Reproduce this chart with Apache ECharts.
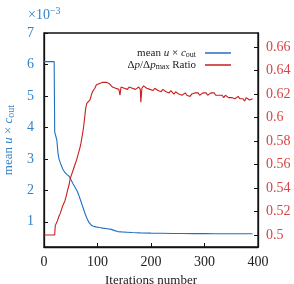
<!DOCTYPE html>
<html>
<head>
<meta charset="utf-8">
<script src="https://cdn.jsdelivr.net/npm/echarts@6/dist/echarts.min.js"></script>
<style>
  html, body { margin: 0; padding: 0; background: #fff; }
  #chart { width: 294px; height: 284px; }
</style>
</head>
<body>
<div id="chart"></div>
<script>
// blue: mean u x c_out (x1e-3), left axis
const blueIter = [0, 19, 20, 22, 23, 24, 25, 26, 28, 31, 35, 39, 43, 47, 50, 54, 58, 62, 65, 68, 71, 74, 77, 80, 84, 88, 92, 97, 103, 110, 118, 126, 132, 138, 145, 155, 165, 180, 200, 220, 240, 260, 280, 300, 320, 340, 360, 390]
const blueVals = [6.09, 6.09, 3.85, 3.82, 3.8, 3.6, 3.4, 3.2, 3.0, 2.85, 2.68, 2.57, 2.5, 2.45, 2.35, 2.22, 2.1, 1.98, 1.85, 1.7, 1.55, 1.4, 1.25, 1.12, 0.98, 0.9, 0.86, 0.84, 0.82, 0.8, 0.78, 0.76, 0.72, 0.69, 0.68, 0.67, 0.66, 0.65, 0.64, 0.635, 0.63, 0.63, 0.625, 0.625, 0.62, 0.62, 0.62, 0.62]

// red: dp/dp_max ratio, right axis
const redIter = [0, 20, 21, 23, 25, 28, 30, 33, 36, 39, 42, 44, 47, 49, 52, 55, 58, 61, 64, 67, 69, 72, 74, 76, 78, 80, 83, 86, 89, 92, 95, 98, 101, 104, 107, 110, 113, 116, 119, 122, 125, 128, 131, 134, 137, 140, 142, 144, 147, 150, 153, 156, 159, 162, 165, 168, 171, 174, 177, 180, 181, 183, 186, 189, 192, 195, 198, 201, 204, 207, 210, 213, 216, 219, 222, 225, 228, 231, 234, 237, 240, 243, 246, 249, 252, 255, 258, 261, 264, 267, 270, 273, 276, 279, 282, 285, 288, 291, 294, 297, 300, 303, 306, 309, 312, 315, 318, 321, 324, 327, 330, 333, 336, 339, 342, 345, 348, 351, 354, 357, 360, 363, 366, 369, 372, 375, 378, 381, 384, 387, 390]
const redVals = [0.5, 0.5, 0.508, 0.509, 0.512, 0.516, 0.518, 0.522, 0.526, 0.529, 0.534, 0.538, 0.543, 0.548, 0.552, 0.556, 0.560, 0.564, 0.569, 0.574, 0.578, 0.586, 0.592, 0.600, 0.608, 0.612, 0.613, 0.615, 0.620, 0.623, 0.625, 0.628, 0.627, 0.629, 0.628, 0.630, 0.629, 0.630, 0.631, 0.629, 0.628, 0.626, 0.627, 0.625, 0.626, 0.624, 0.619, 0.626, 0.627, 0.625, 0.626, 0.624, 0.626, 0.627, 0.625, 0.626, 0.624, 0.625, 0.626, 0.624, 0.613, 0.625, 0.627, 0.626, 0.625, 0.626, 0.624, 0.625, 0.623, 0.625, 0.624, 0.623, 0.624, 0.622, 0.624, 0.623, 0.622, 0.623, 0.621, 0.623, 0.622, 0.620, 0.622, 0.621, 0.620, 0.621, 0.619, 0.620, 0.621, 0.619, 0.620, 0.618, 0.620, 0.619, 0.621, 0.620, 0.621, 0.619, 0.620, 0.621, 0.620, 0.621, 0.619, 0.620, 0.621, 0.622, 0.621, 0.619, 0.620, 0.619, 0.618, 0.619, 0.617, 0.619, 0.618, 0.617, 0.618, 0.617, 0.618, 0.616, 0.617, 0.618, 0.616, 0.617, 0.616, 0.614, 0.617, 0.616, 0.615, 0.616, 0.616]

const xTicks = [0, 100, 200, 300, 400]
const leftTicks = [1, 2, 3, 4, 5, 6, 7]
const rightTicks = [0.5, 0.52, 0.54, 0.56, 0.58, 0.6, 0.62, 0.64, 0.66]

const blueName = 'mean u × c_out'
const redName = 'Δp/Δp_max Ratio'

const FONT = '"Liberation Serif", "DejaVu Serif", serif'
const BLUE = '#1f70c1'
const BLUE_TXT = '#3282c8'
const RED = '#c81e1e'
const RED_TXT = '#d64545'

const chart = echarts.init(document.getElementById('chart'))

const legendRich = {
  n: { fontFamily: FONT, fontSize: 11, color: '#222', lineHeight: 11 },
  i: { fontFamily: FONT, fontSize: 11, fontStyle: 'italic', color: '#222', lineHeight: 11 },
  s: { fontFamily: FONT, fontSize: 8, color: '#222', padding: [4, 0, 0, 0], lineHeight: 11 }
}

chart.setOption({
  animation: false,
  backgroundColor: '#fff',
  grid: {
    left: 44, right: 36, top: 33, bottom: 37,
    outerBoundsMode: 'none',
    show: true, borderColor: '#111', borderWidth: 1.3, backgroundColor: 'transparent'
  },
  graphic: [{
    type: 'text',
    left: 28,
    top: 6,
    style: {
      text: '{a|×10}{b|−3}',
      rich: {
        a: { fontFamily: FONT, fontSize: 14, fill: BLUE_TXT },
        b: { fontFamily: FONT, fontSize: 10, fill: BLUE_TXT, padding: [0, 0, 8, 0] }
      }
    }
  }],
  legend: {
    orient: 'vertical',
    right: 58,
    top: 42,
    align: 'right',
    itemWidth: 26,
    itemHeight: 1.5,
    itemGap: 0,
    icon: 'rect',
    data: [blueName, redName],
    formatter: (name) => name === blueName
      ? '{n|mean }{i|u}{n| × }{i|c}{s|out}'
      : '{n|Δ}{i|p}{n|/Δ}{i|p}{s|max}{n| Ratio}',
    textStyle: { rich: legendRich, padding: [0, 4, 0, 0] }
  },
  xAxis: {
    type: 'value',
    min: 0,
    max: 400,
    interval: 100,
    name: 'Iterations number',
    nameLocation: 'middle',
    nameGap: 26,
    nameTextStyle: { fontFamily: FONT, fontSize: 13, color: '#222' },
    axisLine: { show: true, lineStyle: { color: '#111', width: 1.3 } },
    axisTick: { show: true, inside: true, length: 4, lineStyle: { color: '#111' }, customValues: xTicks },
    axisLabel: { fontFamily: FONT, fontSize: 14, color: '#222', margin: 8, customValues: xTicks },
    splitLine: { show: false }
  },
  yAxis: [{
    type: 'value',
    min: 0.2,
    max: 7,
    position: 'left',
    name: '{n|mean }{i|u}{n| × }{i|c}{s|out}',
    nameLocation: 'middle',
    nameGap: 28,
    nameTextStyle: {
      rich: {
        n: { fontFamily: FONT, fontSize: 13, color: BLUE_TXT },
        i: { fontFamily: FONT, fontSize: 13, fontStyle: 'italic', color: BLUE_TXT },
        s: { fontFamily: FONT, fontSize: 10, color: BLUE_TXT, padding: [5, 0, 0, 0] }
      }
    },
    axisLine: { show: true, lineStyle: { color: '#111', width: 1.3 } },
    axisTick: { show: true, inside: true, length: 4, lineStyle: { color: '#111' }, customValues: leftTicks },
    axisLabel: { fontFamily: FONT, fontSize: 14, color: BLUE_TXT, margin: 10, customValues: leftTicks },
    splitLine: { show: false }
  }, {
    type: 'value',
    min: 0.4898,
    max: 0.672,
    position: 'right',
    axisLine: { show: true, lineStyle: { color: '#111', width: 1.3 } },
    axisTick: { show: true, inside: true, length: 4, lineStyle: { color: '#111' }, customValues: rightTicks },
    axisLabel: { fontFamily: FONT, fontSize: 14, color: RED_TXT, margin: 8, customValues: rightTicks, formatter: (v) => String(+v.toFixed(2)) },
    splitLine: { show: false }
  }],
  series: [{
    name: blueName,
    type: 'line',
    yAxisIndex: 0,
    showSymbol: false,
    symbol: 'none',
    lineStyle: { color: BLUE, width: 1.1 },
    itemStyle: { color: BLUE },
    data: blueIter.map((x, i) => [x, blueVals[i]])
  }, {
    name: redName,
    type: 'line',
    yAxisIndex: 1,
    showSymbol: false,
    symbol: 'none',
    lineStyle: { color: RED, width: 1.1 },
    itemStyle: { color: RED },
    data: redIter.map((x, i) => [x, redVals[i]])
  }]
})
</script>
</body>
</html>
